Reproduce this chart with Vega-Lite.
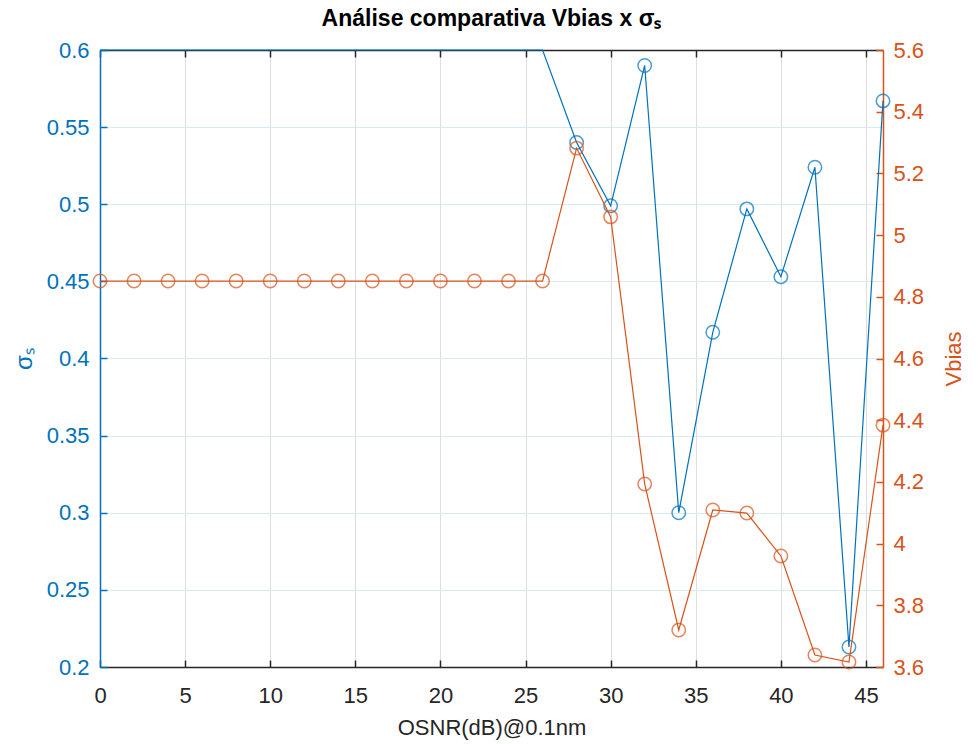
{
  "$schema": "https://vega.github.io/schema/vega-lite/v6.json",
  "width": 783,
  "height": 617,
  "autosize": {"type": "none"},
  "padding": {"left": 100, "top": 50, "right": 96, "bottom": 77},
  "background": "white",
  "title": {"text": "Análise comparativa Vbias x σₛ", "font": "Liberation Sans", "fontSize": 23, "fontWeight": "bold", "color": "#000000", "anchor": "middle", "offset": 8},
  "data": {"values": [
    {"osnr": 0, "sigma": 0.6, "vbias": 4.851},
    {"osnr": 2, "sigma": 0.6, "vbias": 4.851},
    {"osnr": 4, "sigma": 0.6, "vbias": 4.851},
    {"osnr": 6, "sigma": 0.6, "vbias": 4.851},
    {"osnr": 8, "sigma": 0.6, "vbias": 4.851},
    {"osnr": 10, "sigma": 0.6, "vbias": 4.851},
    {"osnr": 12, "sigma": 0.6, "vbias": 4.851},
    {"osnr": 14, "sigma": 0.6, "vbias": 4.851},
    {"osnr": 16, "sigma": 0.6, "vbias": 4.851},
    {"osnr": 18, "sigma": 0.6, "vbias": 4.851},
    {"osnr": 20, "sigma": 0.6, "vbias": 4.851},
    {"osnr": 22, "sigma": 0.6, "vbias": 4.851},
    {"osnr": 24, "sigma": 0.6, "vbias": 4.851},
    {"osnr": 26, "sigma": 0.6, "vbias": 4.851},
    {"osnr": 28, "sigma": 0.540, "vbias": 5.282},
    {"osnr": 30, "sigma": 0.499, "vbias": 5.059},
    {"osnr": 32, "sigma": 0.590, "vbias": 4.193},
    {"osnr": 34, "sigma": 0.300, "vbias": 3.720},
    {"osnr": 36, "sigma": 0.417, "vbias": 4.109},
    {"osnr": 38, "sigma": 0.497, "vbias": 4.099},
    {"osnr": 40, "sigma": 0.453, "vbias": 3.960},
    {"osnr": 42, "sigma": 0.524, "vbias": 3.639},
    {"osnr": 44, "sigma": 0.213, "vbias": 3.616},
    {"osnr": 46, "sigma": 0.567, "vbias": 4.384}
  ]},
  "layer": [
    {
      "encoding": {
        "x": {"field": "osnr", "type": "quantitative", "scale": {"domain": [0, 46], "nice": false, "zero": false},
          "axis": {"orient": "bottom", "values": [0,5,10,15,20,25,30,35,40,45], "title": "OSNR(dB)@0.1nm", "labelFlush": false, "labelOverlap": false,
            "domainColor": "#262626", "domainWidth": 1.5, "tickColor": "#262626", "tickSize": -7, "tickWidth": 1.5,
            "labelPadding": 25, "labelFont": "Liberation Sans", "labelFontSize": 22, "labelColor": "#262626",
            "titleFont": "Liberation Sans", "titleFontSize": 22, "titleFontWeight": "normal", "titleColor": "#262626", "titlePadding": 11,
            "grid": true, "gridColor": "#dedede", "gridWidth": 1}},
        "y": {"field": "sigma", "type": "quantitative", "scale": {"domain": [0.2, 0.6], "nice": false, "zero": false},
          "axis": {"orient": "left", "values": [0.2,0.25,0.3,0.35,0.4,0.45,0.5,0.55,0.6], "format": ".2~f", "title": "σₛ", "labelFlush": false, "labelOverlap": false,
            "domainColor": "#0072BD", "domainWidth": 1.5, "tickColor": "#0072BD", "tickSize": -7, "tickWidth": 1.5,
            "labelPadding": 18, "labelFont": "Liberation Sans", "labelFontSize": 22, "labelColor": "#0072BD",
            "titleFont": "Liberation Sans", "titleFontSize": 24, "titleFontWeight": "normal", "titleColor": "#0072BD", "titlePadding": 10,
            "grid": true, "gridColor": "#d9eaf5", "gridWidth": 1}}
      },
      "layer": [
        {"mark": {"type": "line", "color": "#0072BD", "strokeWidth": 1.2}},
        {"transform": [{"filter": "datum.sigma < 0.6"}],
         "mark": {"type": "point", "shape": "circle", "filled": false, "color": "#0072BD", "size": 180, "strokeWidth": 1.5}}
      ]
    },
    {
      "encoding": {
        "x": {"field": "osnr", "type": "quantitative", "scale": {"domain": [0, 46], "nice": false, "zero": false},
          "axis": {"orient": "top", "values": [0,5,10,15,20,25,30,35,40,45], "title": null, "labels": false,
            "domainColor": "#262626", "domainWidth": 1.5, "tickColor": "#262626", "tickSize": -7, "tickWidth": 1.5, "grid": false}},
        "y": {"field": "vbias", "type": "quantitative", "scale": {"domain": [3.6, 5.6], "nice": false, "zero": false},
          "axis": {"orient": "right", "values": [3.6,3.8,4,4.2,4.4,4.6,4.8,5,5.2,5.4,5.6], "format": "~g", "title": "Vbias", "labelFlush": false, "labelOverlap": false,
            "domainColor": "#D95319", "domainWidth": 1.5, "tickColor": "#D95319", "tickSize": -7, "tickWidth": 1.5,
            "labelPadding": 17, "labelFont": "Liberation Sans", "labelFontSize": 22, "labelColor": "#D95319",
            "titleFont": "Liberation Sans", "titleFontSize": 22, "titleFontWeight": "normal", "titleColor": "#D95319",
            "titleAngle": 270, "titleBaseline": "top", "titlePadding": 20, "grid": false}}
      },
      "layer": [
        {"mark": {"type": "line", "color": "#D95319", "strokeWidth": 1.2}},
        {"mark": {"type": "point", "shape": "circle", "filled": false, "color": "#D95319", "size": 180, "strokeWidth": 1.5}}
      ]
    }
  ],
  "resolve": {"scale": {"y": "independent"}, "axis": {"x": "independent", "y": "independent"}},
  "config": {"view": {"stroke": null}}
}
